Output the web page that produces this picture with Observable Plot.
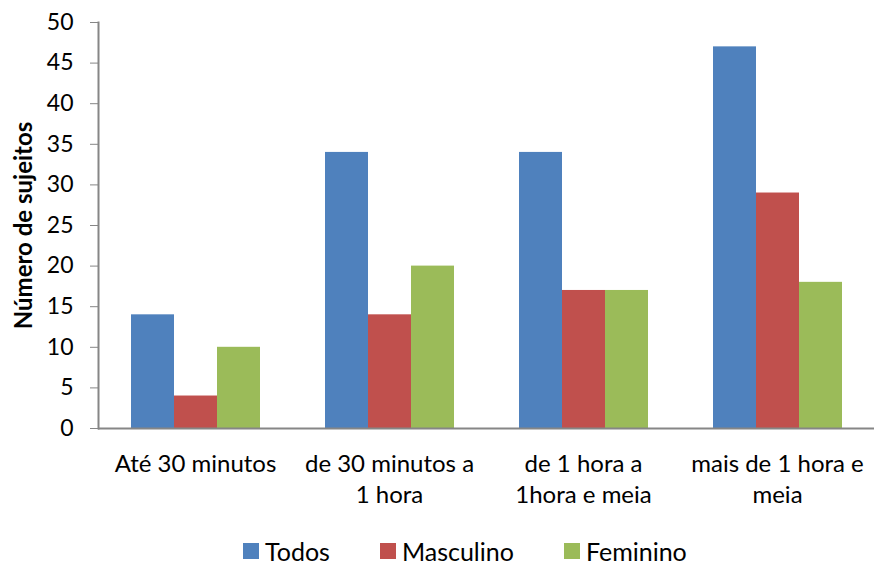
<!DOCTYPE html>
<html><head><meta charset="utf-8">
<script src="https://cdn.jsdelivr.net/npm/d3@7"></script>
<script src="https://cdn.jsdelivr.net/npm/@observablehq/plot@0.6"></script>
<style>
body{margin:0;background:#fff;font-family:Lato, sans-serif;}
#wrap{position:relative;width:874px;height:565px;}
#legend{position:absolute;top:537px;left:243px;height:28px;display:flex;align-items:center;gap:50px;font-size:25px;color:#000;}
#legend .item{display:flex;align-items:center;gap:6px;}
#legend .sw{width:16px;height:16px;display:inline-block;}
</style></head><body><div id="wrap"><div id="chart"></div><div id="legend"></div></div>
<script>
const categories = ["Até 30 minutos", "de 30 minutos a\n1 hora", "de 1 hora a\n1hora e meia", "mais de 1 hora e\nmeia"];
const series = ["Todos", "Masculino", "Feminino"];
const todos = [14, 34, 34, 47];
const masculino = [4, 14, 17, 29];
const feminino = [10, 20, 17, 18];
const colors = ["#4F81BD", "#C0504D", "#9BBB59"];
const yTicks = [0, 5, 10, 15, 20, 25, 30, 35, 40, 45, 50];
const yTitle = "Número de sujeitos";

const values = [todos, masculino, feminino];
const data = [];
categories.forEach((c, i) => series.forEach((s, j) => data.push({cat: c, serie: s, value: values[j][i]})));

const chart = Plot.plot({
  width: 874, height: 520,
  marginLeft: 97, marginRight: 0, marginTop: 22, marginBottom: 92,
  style: {fontFamily: "Lato, sans-serif", fontSize: "23px", color: "#000", background: "#fff"},
  fx: {domain: categories, paddingInner: 0, paddingOuter: 0, label: null},
  x: {domain: series, paddingInner: 0, paddingOuter: 0.74, axis: null},
  y: {domain: [0, 50]},
  color: {domain: series, range: colors},
  marks: [
    Plot.barY(data, {fx: "cat", x: "serie", y: "value", fill: "serie"}),
    Plot.ruleY([0], {stroke: "#868686", strokeWidth: 2}),
    Plot.frame({anchor: "left", facetAnchor: "left", stroke: "#868686", strokeWidth: 2}),
    Plot.axisY({ticks: yTicks, tickSize: 8, tickPadding: 17, stroke: "#868686", fill: "#000", fontSize: 23,
      label: yTitle, labelAnchor: "center", labelArrow: "none", labelOffset: 84}),
    Plot.axisFx({anchor: "bottom", tickSize: 0, tickPadding: 21, lineHeight: 1.3, fontSize: 24, label: null, fill: "#000"})
  ]
});
document.getElementById("chart").appendChild(chart);
const lab = chart.querySelector('[aria-label="y-axis label"]');
if (lab) { lab.setAttribute("font-weight", "bold"); lab.setAttribute("font-size", "24"); }

const leg = document.getElementById("legend");
series.forEach((s, j) => {
  const it = document.createElement("div"); it.className = "item";
  const sw = document.createElement("span"); sw.className = "sw"; sw.style.background = colors[j];
  const t = document.createElement("span"); t.textContent = s;
  it.appendChild(sw); it.appendChild(t); leg.appendChild(it);
});
</script></body></html>
